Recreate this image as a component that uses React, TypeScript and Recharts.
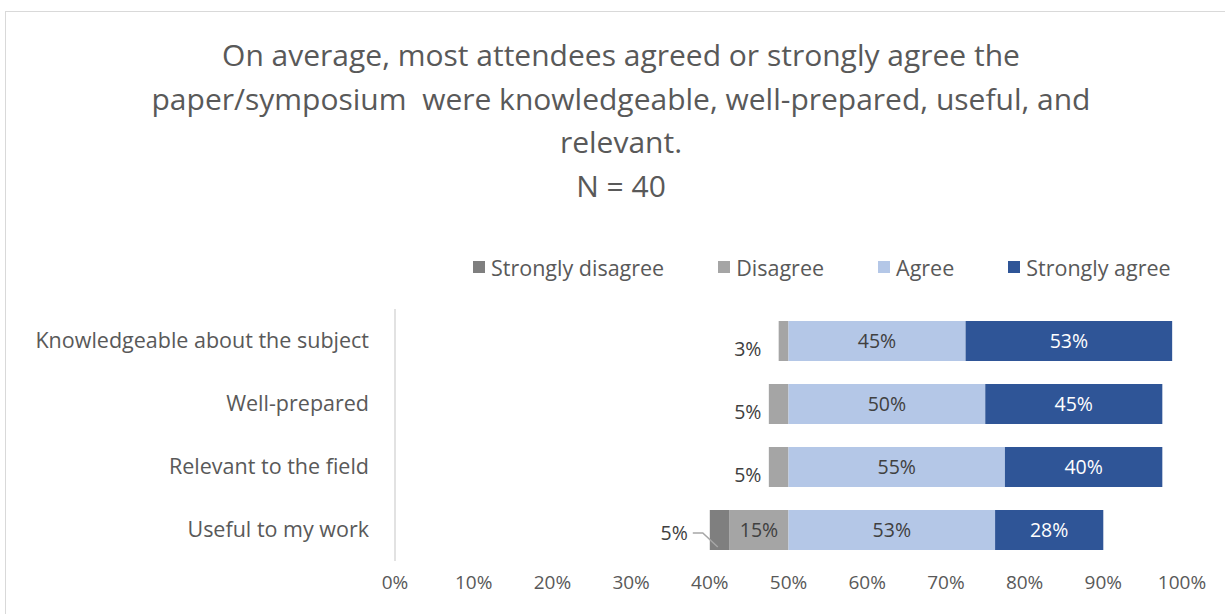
import { Bar, BarChart, LabelList, XAxis, YAxis } from "recharts";

const categories = [
  "Knowledgeable about the subject",
  "Well-prepared",
  "Relevant to the field",
  "Useful to my work",
];
// share of the 40 attendees, in percent (one attendee = 2.5%)
const stronglyDisagree = [0, 0, 0, 5];
const disagree = [2.5, 5, 5, 15];
const agree = [45, 50, 55, 52.5];
const stronglyAgree = [52.5, 45, 40, 27.5];
const axisTicks = [-100, -80, -60, -40, -20, 0, 20, 40, 60, 80, 100];

const titleLines = [
  "On average, most attendees agreed or strongly agree the",
  "paper/symposium  were knowledgeable, well-prepared, useful, and",
  "relevant.",
  "N = 40",
];

const colors = {
  sd: "#7f7f7f",
  d: "#a5a5a5",
  a: "#b4c7e7",
  sa: "#2f5597",
};

const legendItems = [
  { label: "Strongly disagree", color: colors.sd },
  { label: "Disagree", color: colors.d },
  { label: "Agree", color: colors.a },
  { label: "Strongly agree", color: colors.sa },
];

const data = categories.map((name, i) => ({
  name,
  sd: -stronglyDisagree[i],
  d: -disagree[i],
  a: agree[i],
  sa: stronglyAgree[i],
}));

const pct = (v: number) => `${Math.round(Math.abs(v))}%`;
const FONT = "'Open Sans', sans-serif";
const LABEL_SIZE = 19.5;

function box(props: any) {
  const x = Number(props.x);
  const w = Number(props.width);
  const y = Number(props.y);
  const h = Number(props.height);
  return { left: Math.min(x, x + w), right: Math.max(x, x + w), y, h };
}

const inside = (fill: string) => (props: any) => {
  if (!props.value) return null;
  const { left, right, y, h } = box(props);
  return (
    <text x={(left + right) / 2} y={y + h / 2} dy="0.35em" textAnchor="middle" fill={fill} fontSize={LABEL_SIZE}>
      {pct(props.value)}
    </text>
  );
};

const disagreeLabel = (props: any) => {
  if (!props.value) return null;
  const { left, right, y, h } = box(props);
  if (right - left > 30) return inside("#404040")(props);
  return (
    <text x={right - 27} y={y + h / 2 + 8} dy="0.35em" textAnchor="end" fill="#404040" fontSize={LABEL_SIZE}>
      {pct(props.value)}
    </text>
  );
};

const strongDisagreeLabel = (props: any) => {
  if (!props.value) return null;
  const { left, y, h } = box(props);
  const cy = y + h / 2 + 3;
  return (
    <g>
      <polyline
        points={`${left - 17},${cy} ${left - 7},${cy} ${left + 8},${y + h - 3}`}
        fill="none"
        stroke="#a6a6a6"
        strokeWidth={1.5}
      />
      <text x={left - 22} y={cy} dy="0.35em" textAnchor="end" fill="#404040" fontSize={LABEL_SIZE}>
        {pct(props.value)}
      </text>
    </g>
  );
};

export default function App() {
  return (
    <div
      style={{
        position: "absolute",
        left: 0,
        top: 0,
        width: 1225,
        height: 614,
        overflow: "hidden",
        background: "#fff",
        fontFamily: FONT,
        color: "#595959",
      }}
    >
      <div
        style={{
          position: "absolute",
          left: 5,
          top: 11,
          width: 1400,
          height: 800,
          borderTop: "1.5px solid #d9d9d9",
          borderLeft: "1.5px solid #d9d9d9",
        }}
      />
      <div
        style={{
          position: "absolute",
          left: 5,
          top: 33,
          width: 1232,
          textAlign: "center",
          fontSize: 30,
          lineHeight: "43.5px",
        }}
      >
        {titleLines.map((t) => (
          <div key={t} style={{ whiteSpace: "pre" }}>
            {t}
          </div>
        ))}
      </div>
      <div
        style={{
          position: "absolute",
          left: 473,
          top: 254,
          height: 26,
          display: "flex",
          alignItems: "center",
          gap: 54,
          fontSize: 21.5,
        }}
      >
        {legendItems.map((it) => (
          <div key={it.label} style={{ display: "flex", alignItems: "center", gap: 6 }}>
            <span style={{ width: 12, height: 12, background: it.color, display: "inline-block" }} />
            <span>{it.label}</span>
          </div>
        ))}
      </div>
      <div style={{ position: "absolute", left: 0, top: 0 }}>
        <BarChart
          width={1225}
          height={614}
          data={data}
          layout="vertical"
          stackOffset="sign"
          barSize={40}
          margin={{ top: 309, right: 43, bottom: 13, left: 0 }}
        >
          <XAxis
            type="number"
            domain={[-100, 100]}
            ticks={axisTicks}
            tickFormatter={(v: number) => `${(v + 100) / 2}%`}
            axisLine={false}
            tickLine={false}
            tickSize={0}
            tickMargin={15}
            height={40}
            tick={{ fill: "#595959", fontSize: 19, fontFamily: FONT }}
          />
          <YAxis
            type="category"
            dataKey="name"
            width={395}
            axisLine={{ stroke: "#d9d9d9", strokeWidth: 1.5 }}
            tickLine={false}
            tickSize={0}
            tickMargin={26}
            tick={{ fill: "#595959", fontSize: 21.5, fontFamily: FONT }}
          />
          <Bar dataKey="d" stackId="s" fill={colors.d} isAnimationActive={false}>
            <LabelList dataKey="d" content={disagreeLabel} />
          </Bar>
          <Bar dataKey="sd" stackId="s" fill={colors.sd} isAnimationActive={false}>
            <LabelList dataKey="sd" content={strongDisagreeLabel} />
          </Bar>
          <Bar dataKey="a" stackId="s" fill={colors.a} isAnimationActive={false}>
            <LabelList dataKey="a" content={inside("#404040")} />
          </Bar>
          <Bar dataKey="sa" stackId="s" fill={colors.sa} isAnimationActive={false}>
            <LabelList dataKey="sa" content={inside("#ffffff")} />
          </Bar>
        </BarChart>
      </div>
    </div>
  );
}
